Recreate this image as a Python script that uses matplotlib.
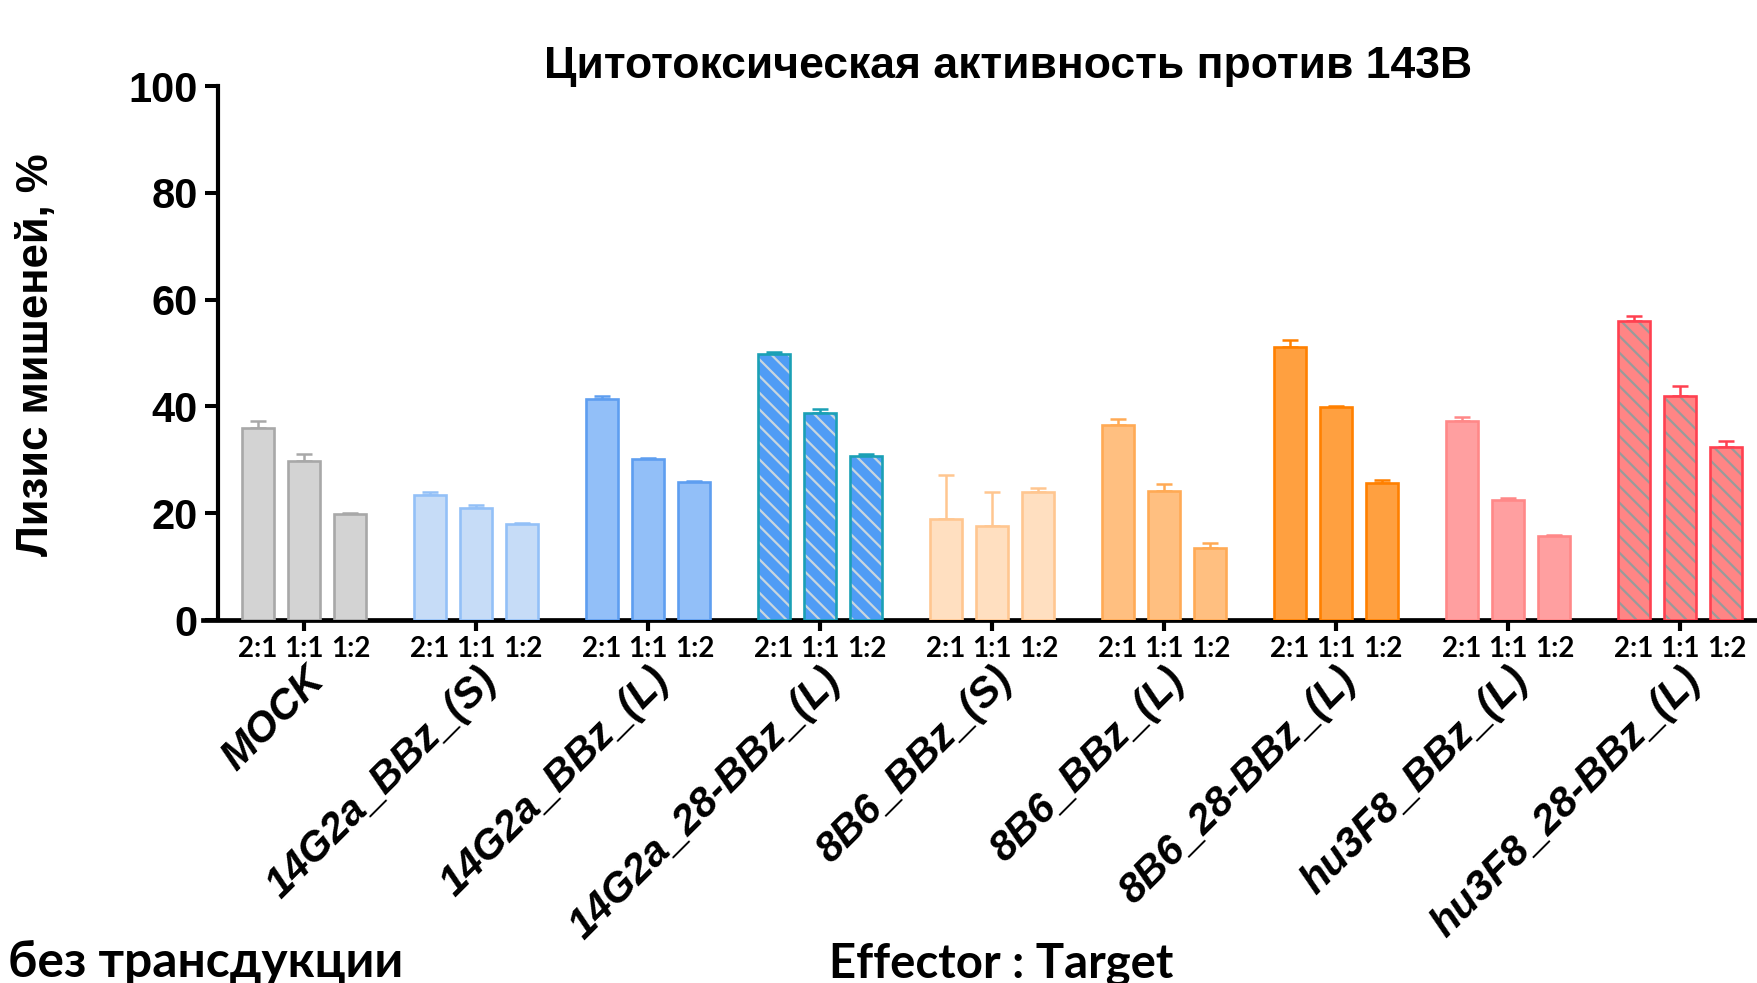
import matplotlib
matplotlib.use("Agg")
import matplotlib.pyplot as plt
import numpy as np

# Cytotoxicity data: % target lysis at three effector:target ratios
groups = ['MOCK', '14G2a_BBz_(S)', '14G2a_BBz_(L)', '14G2a_28-BBz_(L)',
          '8B6_BBz_(S)', '8B6_BBz_(L)', '8B6_28-BBz_(L)',
          'hu3F8_BBz_(L)', 'hu3F8_28-BBz_(L)']
ratios = ['2:1', '1:1', '1:2']

lysis_2_1 = [36.0, 23.4, 41.4, 49.9, 18.9, 36.6, 51.1, 37.3, 56.0]
lysis_1_1 = [29.8, 20.9, 30.1, 38.8, 17.6, 24.2, 39.9, 22.4, 41.9]
lysis_1_2 = [19.9, 17.9, 25.9, 30.8, 23.9, 13.4, 25.7, 15.7, 32.4]

err_2_1 = [1.3, 0.6, 0.5, 0.2, 8.3, 1.0, 1.3, 0.7, 1.0]
err_1_1 = [1.3, 0.6, 0.2, 0.8, 6.4, 1.3, 0.2, 0.5, 1.9]
err_1_2 = [0.1, 0.3, 0.2, 0.2, 0.9, 1.1, 0.5, 0.3, 1.1]

yticks = [0, 20, 40, 60, 80, 100]

# Per-construct styling
fills = ['#D3D3D3', '#C6DCF7', '#92BFF8', '#4F9CF5', '#FFDFC0',
         '#FFBF80', '#FFA040', '#FF9FA0', '#FF8585']
edges = ['#A8A8A8', '#93C0F7', '#5E9EF0', '#1BA0B5', '#FFC690',
         '#FFAA55', '#FF8000', '#FF8888', '#FF4050']
hatches = [None, None, None, '\\\\', None, None, None, None, '\\\\']
hatch_colors = [None, None, None, '#C9D6DE', None, None, None, None, '#9A9A9A']

plt.rcParams['hatch.linewidth'] = 1.6

fig = plt.figure(figsize=(17.57, 9.83), dpi=100)
ax = fig.add_axes([203 / 1757, 1 - 620 / 983, 1554 / 1757, 534 / 983])

values = np.array([lysis_2_1, lysis_1_1, lysis_1_2])
errors = np.array([err_2_1, err_1_1, err_1_2])

offsets = [-0.27, 0.0, 0.27]
width = 0.186
centers = np.arange(len(groups))

minor_pos, minor_lab = [], []
for g in range(len(groups)):
    for k in range(3):
        x = centers[g] + offsets[k]
        y = values[k, g]
        e = errors[k, g]
        ax.errorbar([x], [y], yerr=[[0], [e]], fmt='none', ecolor=edges[g],
                    elinewidth=1.8, capsize=5.5, capthick=1.8, zorder=2)
        if hatches[g]:
            ax.bar(x, y, width, color=fills[g], edgecolor=hatch_colors[g],
                   linewidth=0, hatch=hatches[g], zorder=3)
            ax.bar(x, y, width, fill=False, edgecolor=edges[g],
                   linewidth=1.9, zorder=4)
        else:
            ax.bar(x, y, width, color=fills[g], edgecolor=edges[g],
                   linewidth=1.9, zorder=3)
        minor_pos.append(x)
        minor_lab.append(ratios[k])

ax.set_xlim(-0.587, 8.448)
ax.set_ylim(0, 100)

for s in ['top', 'right']:
    ax.spines[s].set_visible(False)
ax.spines['left'].set_position(('data', -0.5))
ax.spines['left'].set_linewidth(3.0)
ax.spines['bottom'].set_linewidth(3.4)

ax.set_yticks(yticks)
ax.set_yticklabels([str(v) for v in yticks], fontsize=30, fontweight='bold',
                   family='Liberation Sans')
ax.tick_params(axis='y', direction='out', length=9.5, width=2.9, pad=5)

# Group ticks (major, unlabeled) and ratio labels under each bar (minor)
ax.xaxis.remove_overlapping_locs = False
ax.set_xticks(centers)
ax.set_xticklabels([])
ax.tick_params(axis='x', which='major', direction='out', length=8, width=3)
ax.set_xticks(minor_pos, minor=True)
ax.set_xticklabels(minor_lab, minor=True, fontsize=20, fontweight='bold',
                   family='Lato')
ax.tick_params(axis='x', which='minor', length=0, pad=11.5)

# Rotated construct names under each group
for g, name in enumerate(groups):
    ax.text(centers[g] + 0.13, -0.116, name, transform=ax.get_xaxis_transform(),
            rotation=45, rotation_mode='anchor', ha='right', va='baseline',
            fontsize=30, fontweight='bold', fontstyle='italic',
            family='Liberation Sans')

fig.text(0.574, 0.932, 'Цитотоксическая активность против 143B',
         ha='center', va='center', fontsize=32, fontweight='bold',
         family='Liberation Sans')
fig.text(0.0205, 0.639, 'Лизис мишеней, %', rotation=90, ha='center',
         va='center', fontsize=31.5, fontweight='bold', family='Liberation Sans')
fig.text(1001 / 1757, 6 / 983, 'Effector : Target', ha='center',
         va='baseline', fontsize=34, fontweight='bold', family='Lato')
fig.text(403 / 1757, 6 / 983, 'клетки без трансдукции', ha='right',
         va='baseline', fontsize=35.8, fontweight='bold', family='Lato')

fig.savefig('out.png', dpi=100)
